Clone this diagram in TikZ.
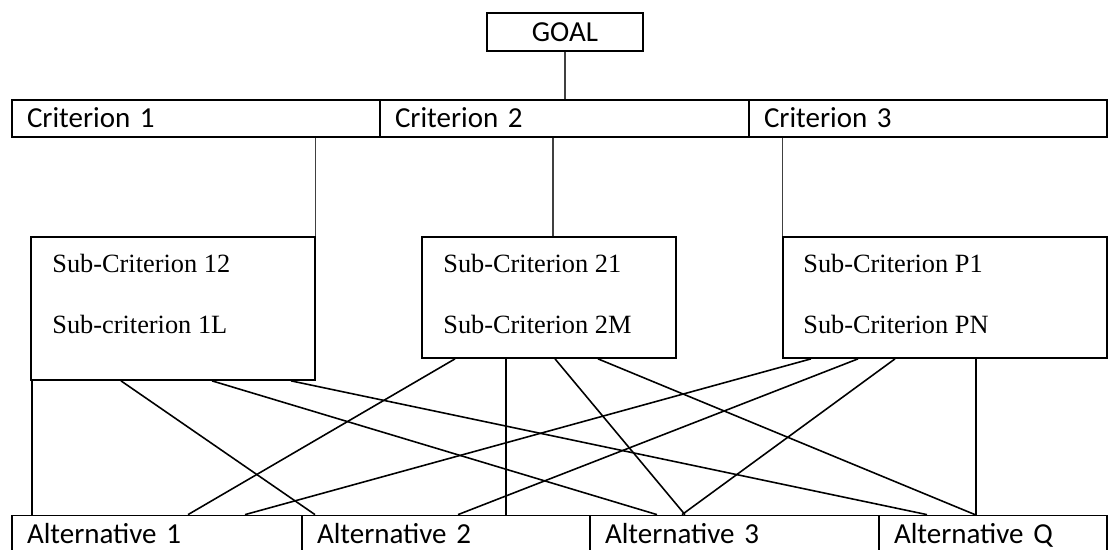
\documentclass[tikz,border=0pt]{standalone}
\usepackage{fontspec}
\newfontfamily\calibri{Carlito}
\newfontfamily\timesf{Liberation Serif}
\newcommand\cfont{\calibri\fontsize{16.5}{19}\selectfont}
\tikzset{
  cell/.style={draw, line width=1pt, minimum height=0.74cm, text width=#1,
    align=left, inner xsep=0.3cm, inner ysep=0pt, text height=0.48cm,
    text depth=0.1cm, font=\cfont},
  subbox/.style={draw, line width=1pt, inner sep=0pt},
  subtext/.style={anchor=base west, inner sep=0pt, font=\timesf\fontsize{15}{18}\selectfont},
  feed/.style={line width=0.6pt, black!75},
  link/.style={line width=0.9pt},
}
\begin{document}
\begin{tikzpicture}[x=0.02cm, y=-0.02cm]
\useasboundingbox (0,0) rectangle (1109,550);
% 目标
\node[draw, line width=1pt, minimum width=3.12cm, minimum height=0.76cm,
  inner sep=0pt, font=\cfont] (goal) at (565,32) {GOAL};
% 准则行
\node[cell=6.76cm] (crit1) at (196,118.5) {Criterion 1};
\node[cell=6.78cm] (crit2) at (564.5,118.5) {Criterion 2};
\node[cell=6.56cm] (crit3) at (928,118.5) {Criterion 3};
% 子准则框
\node[subbox, minimum width=5.68cm, minimum height=2.86cm] (sub1) at (173,308.5) {};
\node[subbox, minimum width=5.08cm, minimum height=2.42cm] (sub2) at (549,297.5) {};
\node[subbox, minimum width=6.48cm, minimum height=2.42cm] (sub3) at (945,297.5) {};
\node[subtext] (s12) at (52,273) {Sub-Criterion 12};
\node[subtext] (s1L) at (52,334) {Sub-criterion 1L};
\node[subtext] (s21) at (443,273) {Sub-Criterion 21};
\node[subtext] (s2M) at (443,334) {Sub-Criterion 2M};
\node[subtext] (sP1) at (803,273) {Sub-Criterion P1};
\node[subtext] (sPN) at (803,334) {Sub-Criterion PN};
% 方案行
\node[cell=5.2cm] (alt1) at (157,534) {Alternative 1};
\node[cell=5.16cm] (alt2) at (446,534) {Alternative 2};
\node[cell=5.18cm] (alt3) at (734.5,534) {Alternative 3};
\node[cell=3.96cm] (altQ) at (993,534) {Alternative Q};
% 上层连线
\draw[feed] (goal.south) -- (goal.south |- crit2.north);
\draw[feed] (sub1.north east) -- (sub1.north east |- crit1.south);
\draw[feed] (sub2.north -| 553,0) -- (crit2.south -| 553,0);
\draw[feed] (sub3.north west) -- (sub3.north west |- crit3.south);
% 子准则 -> 方案
\foreach \s/\a/\t/\b in {sub1/32/alt1/32, sub1/121/alt2/315, sub1/212/alt3/657, sub1/291/altQ/927,
    sub2/455/alt1/188, sub2/506/alt2/506, sub2/555/alt3/685, sub2/598/altQ/975,
    sub3/811/alt1/245, sub3/858/alt2/458, sub3/895/alt3/682, sub3/976/altQ/976}
  \draw[link] (\s.south -| \a,0) -- (\t.north -| \b,0);
\end{tikzpicture}
\end{document}
